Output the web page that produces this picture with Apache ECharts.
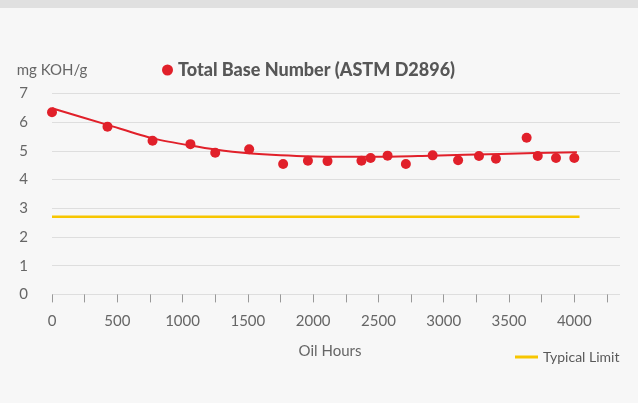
<!DOCTYPE html>
<html>
<head>
<meta charset="utf-8">
<script src="https://cdn.jsdelivr.net/npm/echarts@6/dist/echarts.min.js"></script>
<style>
html,body{margin:0;padding:0;background:#f7f7f7;}
#main{width:638px;height:403px;}
</style>
</head>
<body>
<div id="main"></div>
<script>
// Measured TBN points
var oilHours = [0, 425, 770, 1060, 1250, 1510, 1770, 1960, 2110, 2370, 2440, 2570, 2710, 2915, 3110, 3270, 3400, 3635, 3720, 3860, 4000];
var tbnValues = [6.34, 5.84, 5.35, 5.23, 4.93, 5.05, 4.54, 4.65, 4.64, 4.65, 4.75, 4.83, 4.54, 4.84, 4.67, 4.82, 4.72, 5.45, 4.82, 4.75, 4.75];
// Trend line
var trendHours = [0, 426, 771, 1062, 1250, 1500, 1750, 2130, 2500, 2900, 3430, 4020];
var trendValues = [6.48, 5.90, 5.43, 5.18, 5.04, 4.91, 4.84, 4.79, 4.79, 4.83, 4.89, 4.95];
// Typical limit
var limitHours = [0, 4040];
var limitValues = [2.7, 2.7];
// Axis ticks
var xLabelValues = [0, 500, 1000, 1500, 2000, 2500, 3000, 3500, 4000];
var xTickValues = [0, 250, 500, 750, 1000, 1250, 1500, 1750, 2000, 2250, 2500, 2750, 3000, 3250, 3500, 3750, 4000, 4250];

var FONT = 'Lato';
var chart = echarts.init(document.getElementById('main'), null, {renderer: 'canvas'});

function pairs(xs, ys) { return xs.map(function (x, i) { return [x, ys[i]]; }); }

chart.setOption({
  animation: false,
  backgroundColor: '#f7f7f7',
  textStyle: {fontFamily: FONT},
  graphic: [{
    type: 'rect', left: 0, top: 0, shape: {width: 638, height: 8},
    style: {fill: '#e0e0e0'}, silent: true
  }],
  grid: {left: 52, right: 18, top: 93.3, bottom: 108.6, containLabel: false},
  legend: [{
    data: [{name: 'Total Base Number (ASTM D2896)', icon: 'circle'}],
    left: 162, top: 60, padding: 0, itemWidth: 11, itemHeight: 11,
    textStyle: {fontFamily: FONT, fontSize: 18, fontWeight: 900, color: '#575757', lineHeight: 20}
  }, {
    data: [{name: 'Typical Limit', icon: 'rect'}],
    left: 515, top: 348, padding: 0, itemWidth: 23, itemHeight: 3,
    textStyle: {fontFamily: FONT, fontSize: 14, color: '#595959', lineHeight: 18}
  }],
  xAxis: {
    type: 'value', min: 0, max: 4350, offset: 7,
    name: 'Oil Hours', nameLocation: 'middle', nameGap: 42,
    nameTextStyle: {fontFamily: FONT, fontSize: 15, color: '#666', padding: [0, 12, 0, 0]},
    axisLine: {show: false},
    axisTick: {show: true, length: 8, customValues: xTickValues, lineStyle: {color: '#999', width: 1}},
    axisLabel: {customValues: xLabelValues, margin: 12, fontFamily: FONT, fontSize: 15, color: '#666',
      formatter: function (v) { return String(v); }},
    splitLine: {show: false}
  },
  yAxis: {
    type: 'value', min: 0, max: 7, interval: 1,
    name: 'mg KOH/g', nameLocation: 'end', nameGap: 16,
    nameTextStyle: {fontFamily: FONT, fontSize: 15, color: '#666', align: 'center'},
    axisLine: {show: false}, axisTick: {show: false},
    axisLabel: {margin: 24, fontFamily: FONT, fontSize: 15, color: '#666'},
    splitLine: {show: true, lineStyle: {color: '#dedede', width: 1}}
  },
  series: [{
    name: 'Trend', type: 'line', data: pairs(trendHours, trendValues),
    smooth: 0.25, showSymbol: false, symbol: 'none',
    lineStyle: {color: '#e1202a', width: 2}, z: 2
  }, {
    name: 'Total Base Number (ASTM D2896)', type: 'scatter', data: pairs(oilHours, tbnValues),
    symbol: 'circle', symbolSize: 10, itemStyle: {color: '#e1202a', opacity: 1}, z: 3
  }, {
    name: 'Typical Limit', type: 'line', data: pairs(limitHours, limitValues),
    showSymbol: false, symbol: 'none',
    lineStyle: {color: '#f7c600', width: 2.5}, itemStyle: {color: '#f7c600'}, z: 2
  }]
});
</script>
</body>
</html>
